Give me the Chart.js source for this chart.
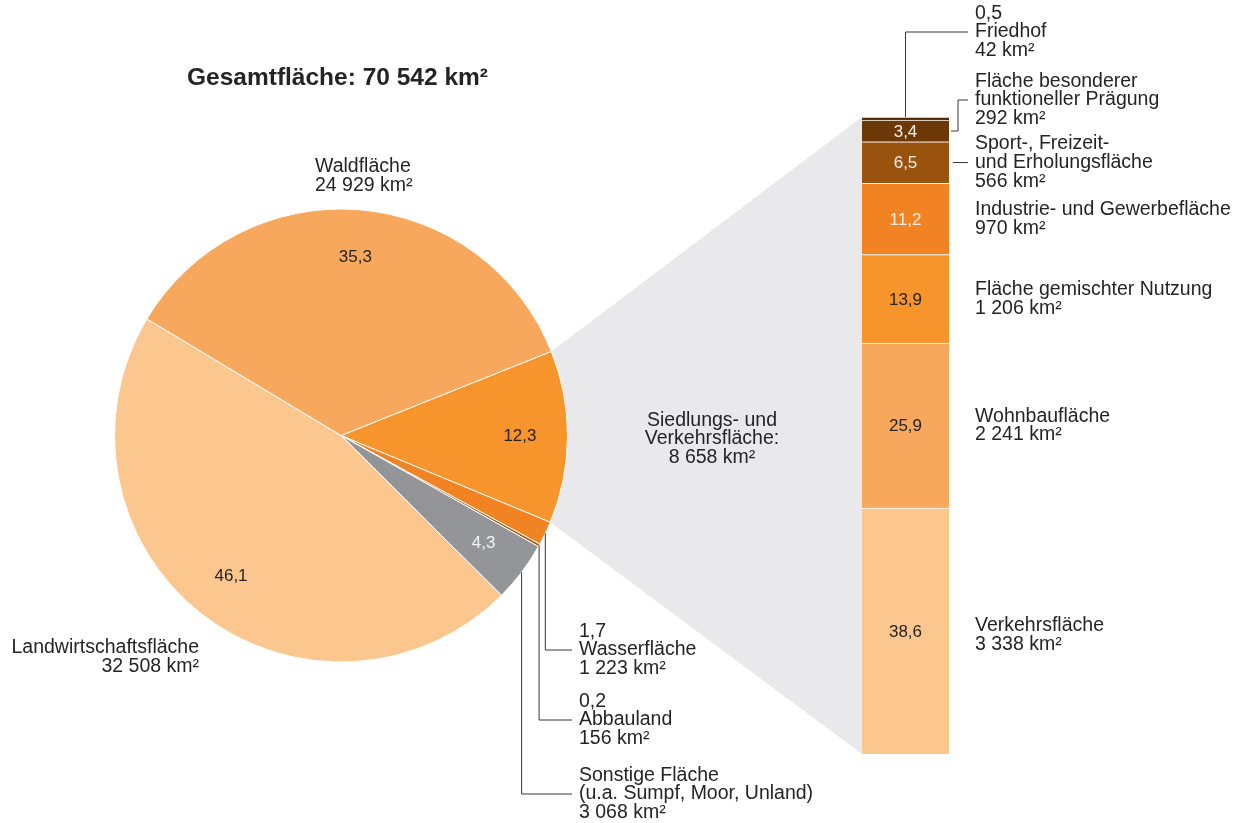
<!DOCTYPE html>
<html lang="de">
<head>
<meta charset="utf-8">
<title>Bodenfläche nach Nutzungsarten</title>
<script src="https://cdn.jsdelivr.net/npm/chart.js@4.4.1/dist/chart.umd.min.js"></script>
<style>
  html, body { margin: 0; padding: 0; background: #fff; }
  #wrap { position: relative; width: 1241px; height: 823px; }
  #wrap canvas { position: absolute; left: 0; top: 0; }
</style>
</head>
<body>
<div id="wrap">
  <canvas id="pieChart" width="1241" height="823"></canvas>
  <canvas id="barChart" width="1241" height="823"></canvas>
</div>
<script>
const totalArea = 70542;

// Hauptnutzungsarten (Kreis), im Uhrzeigersinn ab Siedlungsfläche
const pieNames = ['Siedlungs- und Verkehrsfläche', 'Wasserfläche', 'Abbauland', 'Sonstige Fläche', 'Landwirtschaftsfläche', 'Waldfläche'];
const pieShares = [12.3, 1.7, 0.2, 4.3, 46.1, 35.3];
const pieAreas = [8658, 1223, 156, 3068, 32508, 24929];
const pieColors = ['#f7942b', '#f28323', '#a85d17', '#939598', '#fcc68f', '#f7a85d'];

// Aufteilung der Siedlungs- und Verkehrsfläche (Säule), von unten nach oben
const barNames = ['Verkehrsfläche', 'Wohnbaufläche', 'Fläche gemischter Nutzung', 'Industrie- und Gewerbefläche', 'Sport-, Freizeit- und Erholungsfläche', 'Fläche besonderer funktioneller Prägung', 'Friedhof'];
const barShares = [38.6, 25.9, 13.9, 11.2, 6.5, 3.4, 0.5];
const barAreas = [3338, 2241, 1206, 970, 566, 292, 42];
const barColors = ['#fcc68f', '#f7a85d', '#f7942b', '#f28323', '#9a520f', '#6b3806', '#4a2604'];

const FONT = '"Liberation Sans", Arial, sans-serif';
const INK = '#262324';
const LH = 18.7;

function share(v) { return v.toFixed(1).replace('.', ','); }
function km2(v) { return String(v).replace(/\B(?=(\d{3})+(?!\d))/g, ' ') + ' km²'; }

function textBlock(ctx, lines, x, yMid, align) {
  ctx.textAlign = align || 'left';
  ctx.textBaseline = 'middle';
  const y0 = yMid - (lines.length - 1) * LH / 2;
  lines.forEach((t, i) => ctx.fillText(t, x, y0 + i * LH));
}

function leader(ctx, pts) {
  ctx.beginPath();
  ctx.moveTo(pts[0][0], pts[0][1]);
  for (let i = 1; i < pts.length; i++) ctx.lineTo(pts[i][0], pts[i][1]);
  ctx.strokeStyle = '#3a3738';
  ctx.lineWidth = 1;
  ctx.stroke();
}

function onArc(arc, angle, r) {
  return [arc.x + Math.cos(angle) * r, arc.y + Math.sin(angle) * r];
}

// Werte und Beschriftungen an der Säule
const barLabels = {
  id: 'barLabels',
  afterDatasetsDraw(chart) {
    const ctx = chart.ctx;
    ctx.save();
    const els = barNames.map((_, i) => chart.getDatasetMeta(i).data[0]);
    const right = els[0].x + els[0].width / 2;
    const tx = right + 26;

    els.forEach((el, i) => {
      const cy = (el.y + el.base) / 2;
      if (i < 6) {
        ctx.font = '17px ' + FONT;
        ctx.fillStyle = (i >= 3) ? '#f4efe9' : INK;
        ctx.textAlign = 'center';
        ctx.textBaseline = 'middle';
        ctx.fillText(share(barShares[i]), el.x, cy + 1);
      }
      ctx.font = '19.5px ' + FONT;
      ctx.fillStyle = INK;
      if (i === 0) textBlock(ctx, [barNames[i], km2(barAreas[i])], tx, cy + 4);
      if (i === 1 || i === 2 || i === 3) textBlock(ctx, [barNames[i], km2(barAreas[i])], tx, cy);
      if (i === 4) {
        textBlock(ctx, ['Sport-, Freizeit-', 'und Erholungsfläche', km2(barAreas[i])], tx, cy);
        leader(ctx, [[right + 4, cy], [tx - 7, cy]]);
      }
      if (i === 5) {
        const ly = cy - 31;
        textBlock(ctx, ['Fläche besonderer', 'funktioneller Prägung', km2(barAreas[i])], tx, ly);
        leader(ctx, [[right + 2, cy], [right + 9, cy], [right + 9, ly], [tx - 7, ly]]);
      }
      if (i === 6) {
        const ly = el.y - 85;
        textBlock(ctx, [share(barShares[i]), barNames[i], km2(barAreas[i])], tx, ly);
        leader(ctx, [[el.x, el.y], [el.x, ly], [tx - 7, ly]]);
      }
    });
    ctx.restore();
  }
};

const barChart = new Chart(document.getElementById('barChart'), {
  type: 'bar',
  data: {
    labels: ['Siedlungs- und Verkehrsfläche'],
    datasets: barNames.map((name, i) => ({
      label: name,
      data: [barShares[i]],
      backgroundColor: barColors[i],
      borderColor: '#ffffff',
      borderWidth: { top: 1, right: 0, bottom: 0, left: 0 },
      borderSkipped: false,
      barPercentage: 1,
      categoryPercentage: 1
    }))
  },
  options: {
    responsive: false,
    animation: false,
    layout: { padding: { left: 862, right: 292, top: 117, bottom: 69 } },
    scales: {
      x: { stacked: true, display: false },
      y: { stacked: true, display: false, min: 0, max: 100 }
    },
    plugins: { legend: { display: false }, tooltip: { enabled: false } }
  },
  plugins: [barLabels]
});

// grauer Keil vom Siedlungssegment zur Säule
const zoomWedge = {
  id: 'zoomWedge',
  beforeDatasetsDraw(chart) {
    const ctx = chart.ctx;
    const arc = chart.getDatasetMeta(0).data[0];
    const top = barChart.getDatasetMeta(barShares.length - 1).data[0];
    const bottom = barChart.getDatasetMeta(0).data[0];
    const left = top.x - top.width / 2;
    const a = onArc(arc, arc.startAngle, arc.outerRadius);
    const b = onArc(arc, arc.endAngle, arc.outerRadius);
    ctx.save();
    ctx.beginPath();
    ctx.moveTo(a[0], a[1]);
    ctx.lineTo(left, top.y);
    ctx.lineTo(left, bottom.base);
    ctx.lineTo(b[0], b[1]);
    ctx.closePath();
    ctx.fillStyle = '#e9e9eb';
    ctx.fill();
    ctx.restore();
  }
};

// Werte im Kreis und Beschriftungen außen
const pieLabels = {
  id: 'pieLabels',
  afterDatasetsDraw(chart) {
    const ctx = chart.ctx;
    const arcs = chart.getDatasetMeta(0).data;
    ctx.save();

    ctx.font = 'bold 24.5px ' + FONT;
    ctx.fillStyle = INK;
    ctx.textAlign = 'left';
    ctx.textBaseline = 'middle';
    ctx.fillText('Gesamtfläche: ' + km2(totalArea), 187, 78);

    ctx.font = '17px ' + FONT;
    arcs.forEach((arc, i) => {
      const mid = (arc.startAngle + arc.endAngle) / 2;
      if (i === 1 || i === 2) return;
      const p = onArc(arc, mid, arc.outerRadius * 0.79);
      ctx.fillStyle = (i === 3) ? '#f2f2f2' : INK;
      ctx.textAlign = 'center';
      ctx.textBaseline = 'middle';
      ctx.fillText(share(pieShares[i]), p[0], p[1]);
    });

    ctx.font = '19.5px ' + FONT;
    ctx.fillStyle = INK;
    const textX = 579;
    const outside = [
      { i: 1, y: 650, lines: [share(pieShares[1]), pieNames[1], km2(pieAreas[1])] },
      { i: 2, y: 720, lines: [share(pieShares[2]), pieNames[2], km2(pieAreas[2])] },
      { i: 3, y: 794, lines: [pieNames[3], '(u.a. Sumpf, Moor, Unland)', km2(pieAreas[3])] }
    ];
    outside.forEach(o => {
      const arc = arcs[o.i];
      const p = onArc(arc, (arc.startAngle + arc.endAngle) / 2, arc.outerRadius);
      leader(ctx, [[p[0], p[1]], [p[0], o.y], [textX - 7, o.y]]);
      textBlock(ctx, o.lines, textX, o.y);
    });

    textBlock(ctx, [pieNames[5], km2(pieAreas[5])], 315, 176);
    textBlock(ctx, [pieNames[4], km2(pieAreas[4])], 199, 657, 'right');
    textBlock(ctx, ['Siedlungs- und', 'Verkehrsfläche:', km2(pieAreas[0])], 712, 439, 'center');

    ctx.restore();
  }
};

new Chart(document.getElementById('pieChart'), {
  type: 'pie',
  data: {
    labels: pieNames,
    datasets: [{
      data: pieShares,
      backgroundColor: pieColors,
      borderColor: '#ffffff',
      borderWidth: 1
    }]
  },
  options: {
    responsive: false,
    animation: false,
    rotation: 68.2,
    layout: { padding: { left: 114, right: 673, top: 208, bottom: 160 } },
    plugins: { legend: { display: false }, tooltip: { enabled: false } }
  },
  plugins: [zoomWedge, pieLabels]
});
</script>
</body>
</html>
